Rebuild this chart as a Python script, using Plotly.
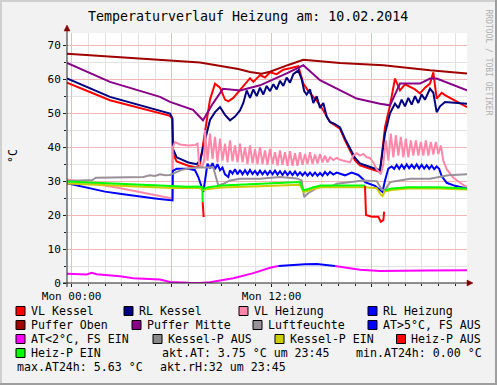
import plotly.graph_objects as go

# ---------------- data (hours since Mon 00:00, value) ----------------
vl_kessel = [(-0.28,59.0),(2.3,53.8),(5.9,49.2),(6.04,48.3),(6.08,38.0),(6.3,35.8),(7.0,34.5),(7.5,34.0),
             (7.7,35.0),(8.0,45.0),(8.3,54.0),(8.6,58.7),(8.9,57.5),(9.2,54.0),(9.4,53.5),(9.7,54.5),
             (10.1,56.7),(10.7,60.3),(10.9,59.2),(11.3,61.2),(11.6,60.5),(11.9,62.0),(12.3,61.5),(12.7,62.8),
             (13.1,63.2),(13.6,63.8),(13.9,58.7),(14.2,56.5),(14.5,54.8),(14.8,53.0),(15.1,50.8),(15.5,47.4),
             (16.1,45.4),(16.4,42.0),(17.0,36.1),(17.3,34.6),(18.0,33.5),(18.5,32.7),(18.8,45.9),(19.1,52.3),
             (19.4,60.2),(19.7,56.7),(20.0,58.5),(20.3,57.7),(20.6,57.0),(20.9,55.8),(21.2,57.5),(21.5,58.7),
             (21.7,62.0),(21.9,54.3),(22.2,56.0),(22.4,55.3),(23.72,51.8)]

rl_kessel = [(-0.28,60.2),(2.3,54.8),(5.9,49.9),(6.04,48.6),(6.08,39.5),(6.3,37.0),(7.0,35.5),(7.5,35.0),
             (7.7,36.0),(8.0,42.0),(8.3,48.0),(8.6,50.3),(8.9,51.8),(9.2,49.5),(9.5,47.9),(9.8,49.0),
             (10.1,50.8),(10.3,53.0),(10.5,56.7),(10.7,54.5),(10.9,57.0),(11.1,55.0),(11.3,57.5),(11.5,55.5),
             (11.7,58.0),(11.9,56.5),(12.1,58.5),(12.3,57.0),(12.5,59.5),(12.7,58.0),(12.9,60.5),(13.1,59.0),
             (13.3,61.5),(13.6,62.6),(13.8,60.0),(13.95,56.5),(14.1,55.5),(14.3,57.0),(14.5,53.0),(14.7,55.0),
             (14.9,51.5),(15.1,53.0),(15.3,49.0),(15.5,47.4),(15.8,46.8),(16.1,45.8),(16.4,42.5),(17.0,36.8),
             (17.3,35.2),(18.0,34.0),(18.5,33.2),(18.8,44.0),(19.1,50.0),(19.4,52.8),(19.6,51.5),(19.8,54.0),
             (20.0,52.0),(20.2,54.5),(20.4,52.5),(20.6,55.0),(20.8,53.0),(21.0,55.5),(21.2,54.0),(21.5,57.2),
             (21.7,56.0),(21.9,50.3),(22.1,52.0),(22.4,53.3),(23.72,52.8)]

vl_heizung = [(-0.28,30.5),(1,29.6),(2,28.7),(3,27.8),(4,26.9),(5,25.9),(6.05,24.9),(6.07,40.0),(6.2,41.5),
              (6.5,40.8),(7.0,40.5),(7.4,40.6),(7.55,41.0),(7.65,35.0),(7.8,34.0),(7.95,36.0),
              (8.0,45.0),(8.15,36.0),(8.3,44.0),(8.45,36.5),(8.6,43.0),(8.75,35.5),(8.9,42.5),(9.05,36.0),
              (9.2,41.0),(9.35,35.5),(9.5,42.0),(9.65,35.8),(9.8,40.5),(9.95,35.5),(10.1,41.0),(10.25,35.5),
              (10.4,40.0),(10.55,35.0),(10.7,40.5),(10.85,35.2),(11.0,39.5),(11.15,35.0),(11.3,40.0),(11.45,35.0),
              (11.6,39.0),(11.75,34.8),(11.9,39.5),(12.05,35.0),(12.2,38.5),(12.35,34.6),(12.5,39.0),(12.65,34.8),
              (12.8,38.5),(12.95,34.5),(13.1,38.8),(13.25,34.5),(13.4,38.2),(13.55,34.5),(13.7,38.5),(13.85,34.8),
              (14.0,38.0),(14.15,35.0),(14.3,38.5),(14.45,35.0),(14.6,37.8),(14.75,35.2),(14.9,38.0),(15.05,35.5),
              (15.2,37.5),(15.35,35.5),(15.5,37.0),(15.7,36.2),(15.9,36.8),(16.1,36.3),(16.4,35.8),(16.7,35.5),
              (16.9,37.5),(17.1,38.2),(17.3,37.5),(17.5,38.0),(17.7,37.0),(17.9,36.8),(18.1,35.5),(18.3,33.5),
              (18.55,32.0),(18.7,35.0),(18.85,42.0),(19.0,36.0),(19.15,44.0),(19.3,37.0),(19.45,43.5),(19.6,37.5),
              (19.75,43.0),(19.9,37.0),(20.05,42.5),(20.2,37.0),(20.35,42.0),(20.5,37.5),(20.65,42.0),(20.8,37.5),
              (20.95,41.5),(21.1,37.5),(21.25,42.0),(21.4,37.5),(21.55,41.5),(21.7,37.8),(21.85,41.5),(22.0,38.0),
              (22.15,40.5),(22.3,36.0),(22.5,33.5),(22.9,31.0),(23.3,29.5),(23.72,28.2)]

rl_heizung = [(-0.28,29.4),(1,27.9),(2,26.9),(3,26.2),(4,25.5),(5,24.9),(6.05,24.3),(6.07,33.0),(6.3,33.6),
              (7.0,33.6),(7.4,33.2),(7.6,31.2),(7.9,26.8),(8.0,30.2),(8.15,35.1),(8.3,33.8),(8.45,35.3),
              (8.6,33.5),(8.75,35.0),(8.9,33.2),(9.05,34.0),(9.2,32.0),(9.4,31.2),(9.5,33.2),(9.65,32.2),
              (9.8,33.5),(9.95,32.0),(10.1,33.3),(10.25,32.0),(10.4,33.2),(10.55,32.0),(10.7,33.3),(10.85,32.1),
              (11.0,33.0),(11.15,31.9),(11.3,33.1),(11.45,32.0),(11.6,33.0),(11.75,31.9),(11.9,33.0),(12.05,32.0),
              (12.2,33.1),(12.35,31.9),(12.5,32.9),(12.65,31.8),(12.8,32.9),(12.95,31.8),(13.1,32.8),(13.25,31.8),
              (13.4,32.8),(13.55,31.7),(13.7,32.6),(13.85,31.7),(14.0,32.6),(14.15,31.6),(14.3,32.5),(14.45,31.6),
              (14.6,32.5),(14.75,31.6),(14.9,32.4),(15.05,31.6),(15.2,32.7),(15.35,31.8),(15.5,32.7),(15.7,31.9),
              (15.9,32.5),(16.1,32.2),(16.4,31.7),(16.8,32.5),(17.2,31.8),(17.5,30.5),(17.6,29.7),(18.2,28.6),
              (18.5,27.5),(18.65,26.8),(18.8,30.2),(19.0,33.7),(19.2,34.3),(19.35,33.6),(19.5,34.8),(19.65,33.6),
              (19.8,34.8),(19.95,33.7),(20.1,34.9),(20.25,33.8),(20.4,34.8),(20.55,33.8),(20.7,34.9),(20.85,33.7),
              (21.0,34.8),(21.15,33.7),(21.3,34.7),(21.45,33.6),(21.6,34.6),(21.75,33.5),(21.9,34.3),(22.05,33.6),
              (22.2,31.5),(22.5,29.5),(23.0,28.6),(23.72,27.8)]

puffer_oben = [(-0.28,67.5),(5.9,65.4),(7.7,64.9),(10.0,63.0),(10.7,62.1),(11.4,61.6),(11.9,62.2),
               (13.0,64.2),(13.9,65.7),(16.1,64.8),(18.7,64.1),(21.5,62.6),(23.72,61.7)]

puffer_mitte = [(-0.28,64.8),(2.3,59.2),(5.3,54.8),(5.9,53.3),(7.28,51.0),(7.88,47.9),(8.48,52.9),
                (9.08,57.2),(10.1,56.7),(11.3,58.2),(12.9,61.7),(13.9,64.1),(14.9,59.7),(16.1,56.7),
                (17.1,54.3),(18.5,52.8),(19.1,52.3),(19.7,58.7),(20.9,58.7),(21.5,60.2),(21.9,60.2),
                (23.72,56.7)]

luftfeuchte = [(-0.28,30.0),(1.25,30.3),(1.45,31.0),(2.0,31.0),(3.0,31.0),(4.3,31.2),(4.7,31.7),(5.0,31.5),
               (5.3,32.0),(5.6,31.7),(5.9,31.8),(6.3,32.8),(6.6,33.3),(7.0,33.7),(7.6,34.1),(8.0,34.0),
               (8.5,34.1),(8.6,32.2),(8.8,28.7),(9.1,29.2),(9.5,30.2),(10.1,30.7),(11.3,30.7),(12.5,31.2),
               (13.5,30.8),(13.8,30.2),(13.95,25.3),(14.2,26.5),(14.5,27.3),(14.9,28.7),(15.5,28.2),(15.9,29.2),
               (16.5,29.5),(16.9,29.8),(17.5,30.2),(18.3,30.0),(18.6,27.5),(18.8,27.3),(19.1,29.7),(19.7,30.2),
               (20.3,30.7),(21.5,30.7),(22.6,31.7),(23.72,32.0)]

at_low = [(-0.28,2.7),(0.9,2.5),(1.2,3.0),(1.5,2.6),(2.9,2.0),(3.7,1.4),(5.3,1.0),(5.9,0.3),(7.0,0.05),
          (7.7,0.0),(8.3,0.25),(9.7,1.4),(10.9,2.9),(11.9,4.5),(12.4,5.0)]
at_high = [(12.4,5.0),(12.9,5.2),(13.3,5.4),(14.0,5.55),(14.7,5.6),(15.2,5.35),(15.8,5.0)]
at_low2 = [(15.8,5.0),(17.3,3.9),(18.5,3.5),(20.1,3.5),(21.3,3.7),(23.72,3.75)]

kessel_p_ein = [(-0.28,29.3),(2,28.9),(4,28.5),(6.05,28.0),(7.6,28.0),(7.9,27.4),(8.1,27.6),(9,28.1),
                (11.3,28.5),(13.7,28.9),(13.9,26.8),(14.1,27.0),(14.5,27.7),(15,28.2),(17.6,28.2),
                (18.3,27.9),(18.55,26.0),(18.65,25.6),(18.8,27.0),(19.2,27.4),(20.2,27.8),(22,27.8),(23.72,27.5)]

heiz_p_ein = [[(-0.28,29.9),(2,29.4),(4,29.0),(6.05,28.5),(7.0,28.3),(7.6,28.4),(7.84,28.2),(7.86,23.8)],
              [(7.95,27.8),(8.2,28.2),(9,28.7),(11.3,29.2),(13.7,29.7),(13.9,27.3),(14.1,27.5),(14.5,28.2),
               (15,28.7),(17.5,28.7),(17.6,28.6)],
              [(18.8,27.3),(19.2,27.8),(20.2,28.2),(22,28.2),(23.72,27.8)]]
heiz_p_aus = [[(7.86,23.8),(7.88,20.5),(7.92,19.4)],
              [(17.6,28.6),(17.62,25.5),(17.66,20.0),(18.0,19.5),(18.4,19.5),(18.55,18.0),(18.7,18.5),(18.75,21.0)]]

tick_vals_x = [0, 6, 12, 18]
tick_text_x = ["Mon 00:00", "", "Mon 12:00", ""]
tick_vals_y = [0, 10, 20, 30, 40, 50, 60, 70]

title_text = "Temperaturverlauf Heizung am: 10.02.2014"
akt_at, min_at24, max_at24, akt_rh, akt_time = 3.75, 0.00, 5.63, 32, "23:45"

legend_rows = [["VL Kessel", "RL Kessel", "VL Heizung", "RL Heizung"],
               ["Puffer Oben", "Puffer Mitte", "Luftfeuchte", "AT>5°C, FS AUS"],
               ["AT<2°C, FS EIN", "Kessel-P AUS", "Kessel-P EIN", "Heiz-P AUS"],
               ["Heiz-P EIN"]]
legend_colors = [["#FF0000", "#000080", "#FF88AA", "#0000FF"],
                 ["#A00000", "#880088", "#999099", "#0000FF"],
                 ["#FF00FF", "#888888", "#CCCC00", "#FF0000"],
                 ["#00FF00"]]

# ---------------- layout geometry (pixels) ----------------
W, H = 497, 385
L, T, PW, PH = 67, 33, 400, 250
def fx(x): return (x - L) / PW
def fy(y): return (T + PH - y) / PH

FONT = "DejaVu Sans Mono"
fig = go.Figure()

def add_line(pts, color, width=2):
    xs = [p[0] for p in pts]
    ys = [p[1] for p in pts]
    fig.add_trace(go.Scatter(x=xs, y=ys, mode="lines", line=dict(color=color, width=width),
                             hoverinfo="skip", showlegend=False))

add_line(vl_kessel, "#FF0000")
add_line(rl_kessel, "#000080")
add_line(vl_heizung, "#FF88AA")
add_line(rl_heizung, "#0000FF")
add_line(puffer_oben, "#A00000")
add_line(puffer_mitte, "#880088")
add_line(luftfeuchte, "#999099")
add_line(at_low, "#FF00FF")
add_line(at_high, "#0000FF")
add_line(at_low2, "#FF00FF")
add_line(kessel_p_ein, "#CCCC00")
for seg in heiz_p_ein:
    add_line(seg, "#00FF00")
for seg in heiz_p_aus:
    add_line(seg, "#FF0000")

shapes = []
annotations = []

# frame shading
shapes += [
    dict(type="rect", xref="paper", yref="paper", x0=fx(0), x1=fx(2), y0=fy(H), y1=fy(0),
         fillcolor="#CFCFCF", line=dict(width=0), layer="above"),
    dict(type="rect", xref="paper", yref="paper", x0=fx(0), x1=fx(W), y0=fy(2), y1=fy(0),
         fillcolor="#CFCFCF", line=dict(width=0), layer="above"),
    dict(type="rect", xref="paper", yref="paper", x0=fx(W - 2), x1=fx(W), y0=fy(H), y1=fy(0),
         fillcolor="#9E9E9E", line=dict(width=0), layer="above"),
    dict(type="rect", xref="paper", yref="paper", x0=fx(0), x1=fx(W), y0=fy(H), y1=fy(H - 2),
         fillcolor="#9E9E9E", line=dict(width=0), layer="above"),
]

# axes with arrows
shapes += [
    dict(type="line", xref="paper", yref="paper", x0=fx(63), x1=fx(470), y0=fy(283), y1=fy(283),
         line=dict(color="#202020", width=1), layer="above"),
    dict(type="line", xref="paper", yref="paper", x0=fx(67), x1=fx(67), y0=fy(287), y1=fy(29),
         line=dict(color="#202020", width=1), layer="above"),
    dict(type="path", xref="paper", yref="paper",
         path=f"M {fx(467)},{fy(280)} L {fx(473)},{fy(283)} L {fx(467)},{fy(286)} Z",
         fillcolor="#800000", line=dict(color="#800000", width=0.5), layer="above"),
    dict(type="path", xref="paper", yref="paper",
         path=f"M {fx(64)},{fy(31)} L {fx(67)},{fy(25)} L {fx(70)},{fy(31)} Z",
         fillcolor="#800000", line=dict(color="#800000", width=0.5), layer="above"),
]

# title and axis label
annotations.append(dict(text=title_text, x=fx(248), y=fy(17), xref="paper", yref="paper",
                        showarrow=False, xanchor="center", yanchor="middle",
                        font=dict(family=FONT, size=13.3, color="#000000")))
annotations.append(dict(text="°C", x=fx(13), y=fy(156), xref="paper", yref="paper",
                        showarrow=False, textangle=-90, xanchor="center", yanchor="middle",
                        font=dict(family=FONT, size=11.5, color="#000000")))
annotations.append(dict(text="RRDTOOL / TOBI OETIKER", x=fx(488.5), y=fy(62), xref="paper", yref="paper",
                        showarrow=False, textangle=90, xanchor="center", yanchor="middle",
                        font=dict(family=FONT, size=8, color="#B0B0B0")))

# legend
box_x = [[16, 124, 239, 368], [16, 132, 253, 368], [16, 153, 275, 396.5], [16]]
row_y = [311, 325, 339, 353, 367]
for r, labels in enumerate(legend_rows):
    for c, lab in enumerate(labels):
        bx = box_x[r][c]
        yc = row_y[r]
        shapes.append(dict(type="rect", xref="paper", yref="paper",
                           x0=fx(bx), x1=fx(bx + 9), y0=fy(yc + 4.5), y1=fy(yc - 4.5),
                           fillcolor=legend_colors[r][c], line=dict(color="#000000", width=1),
                           layer="above"))
        annotations.append(dict(text=lab, x=fx(bx + 12.5), y=fy(yc), xref="paper", yref="paper",
                                showarrow=False, xanchor="left", yanchor="middle",
                                font=dict(family=FONT, size=11.6, color="#000000")))

stats = [
    (f"akt.AT: {akt_at:.2f} °C um {akt_time}", 160, row_y[3]),
    (f"min.AT24h: {min_at24:.2f} °C", 354, row_y[3]),
    (f"max.AT24h: {max_at24:.2f} °C", 15, row_y[4]),
    (f"akt.rH:{akt_rh} um {akt_time}", 157.5, row_y[4]),
]
for txt, x, y in stats:
    annotations.append(dict(text=txt, x=fx(x), y=fy(y), xref="paper", yref="paper",
                            showarrow=False, xanchor="left", yanchor="middle",
                            font=dict(family=FONT, size=11.6, color="#000000")))

MAJ = "#F2B8B8"
MIN = "#E2E2E2"
fig.update_layout(
    width=W, height=H,
    margin=dict(l=L, r=W - L - PW, t=T, b=H - T - PH, pad=0),
    paper_bgcolor="#F2F2F2", plot_bgcolor="#FFFFFF",
    showlegend=False,
    font=dict(family=FONT, size=11, color="#000000"),
    shapes=shapes, annotations=annotations,
    xaxis=dict(range=[-0.28, 23.72], tickvals=tick_vals_x, ticktext=tick_text_x,
               showgrid=True, gridcolor=MAJ, gridwidth=1, zeroline=False, showline=False,
               ticks="outside", ticklen=3, tickcolor="#202020",
               tickfont=dict(family=FONT, size=11, color="#000000"),
               minor=dict(dtick=1, tick0=0, showgrid=True, gridcolor=MIN, gridwidth=1,
                          ticks="outside", ticklen=2, tickcolor="#202020"),
               fixedrange=True),
    yaxis=dict(range=[0, 73.6], tickvals=tick_vals_y,
               showgrid=True, gridcolor=MAJ, gridwidth=1, zeroline=False, showline=False,
               ticks="outside", ticklen=3, tickcolor="#202020",
               tickfont=dict(family=FONT, size=11, color="#000000"),
               minor=dict(dtick=5, tick0=0, showgrid=True, gridcolor=MIN, gridwidth=1,
                          ticks="outside", ticklen=2, tickcolor="#202020"),
               fixedrange=True),
)

fig.write_html("out.html", config={"displayModeBar": False},
               post_script="document.body.style.margin='0';document.body.style.overflow='hidden';")
